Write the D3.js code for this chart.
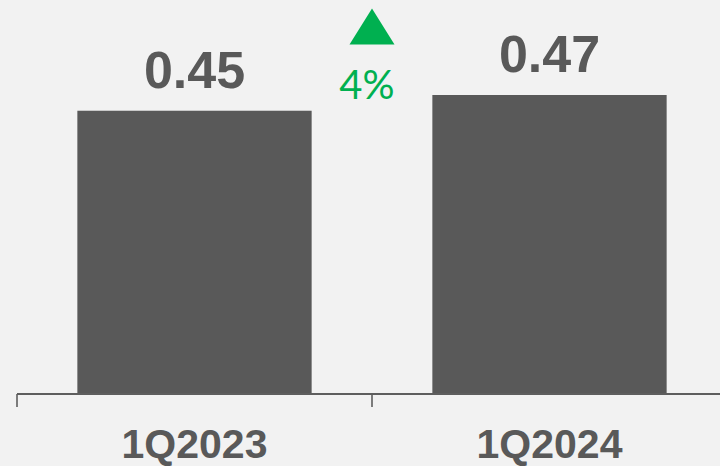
<!DOCTYPE html>
<html>
<head>
<meta charset="utf-8">
<script src="https://cdn.jsdelivr.net/npm/d3@7"></script>
<style>
  html, body { margin: 0; padding: 0; background: #f2f2f2; }
  svg { display: block; }
</style>
</head>
<body>
<svg id="chart" width="720" height="466"></svg>
<script>
// Quarterly values
const quarters = ["1Q2023", "1Q2024"];
const values = [0.45, 0.47];
const valueLabels = ["0.45", "0.47"];
const changeLabel = "4%";

const svg = d3.select("#chart");
const W = 720, H = 466;
const barColor = "#595959";
const textColor = "#595959";
const green = "#00b050";

svg.append("rect").attr("width", W).attr("height", H).attr("fill", "#f2f2f2");

const x = d3.scaleBand()
  .domain(quarters)
  .range([17, 727])
  .paddingInner(0.34)
  .paddingOuter(0.17);

const y = d3.scaleLinear()
  .domain([0.09, 0.47])
  .range([394, 95]);

const baseY = y(0.09);

// Bars
svg.selectAll("rect.bar")
  .data(quarters)
  .join("rect")
  .attr("class", "bar")
  .attr("x", d => x(d))
  .attr("y", (d, i) => y(values[i]))
  .attr("width", x.bandwidth())
  .attr("height", (d, i) => baseY - y(values[i]))
  .attr("fill", barColor);

// Axis baseline with ticks at category boundaries
const step = x.step();
const boundaries = quarters.map((d, i) => x(d) - x.paddingOuter() * step);
svg.append("line")
  .attr("x1", boundaries[0]).attr("x2", W)
  .attr("y1", baseY).attr("y2", baseY)
  .attr("stroke", "#5e5e5e").attr("stroke-width", 2);
svg.selectAll("line.tick")
  .data(boundaries)
  .join("line")
  .attr("class", "tick")
  .attr("x1", d => d).attr("x2", d => d)
  .attr("y1", baseY).attr("y2", baseY + 13)
  .attr("stroke", "#5e5e5e").attr("stroke-width", 1.6);

// Category labels
svg.selectAll("text.cat")
  .data(quarters)
  .join("text")
  .attr("class", "cat")
  .attr("x", d => x(d) + x.bandwidth() / 2)
  .attr("y", 458)
  .attr("text-anchor", "middle")
  .attr("font-family", "Liberation Sans, Arial, sans-serif")
  .attr("font-weight", "bold")
  .attr("font-size", 41)
  .attr("fill", textColor)
  .text(d => d);

// Value labels above bars
svg.selectAll("text.val")
  .data(quarters)
  .join("text")
  .attr("class", "val")
  .attr("x", d => x(d) + x.bandwidth() / 2)
  .attr("y", (d, i) => y(values[i]) - 23)
  .attr("text-anchor", "middle")
  .attr("font-family", "Liberation Sans, Arial, sans-serif")
  .attr("font-weight", "bold")
  .attr("font-size", 52)
  .attr("fill", textColor)
  .text((d, i) => valueLabels[i]);

// Growth indicator between the bars
const midX = boundaries[1];
const tri = d3.path();
tri.moveTo(midX - 22.5, 44.5);
tri.lineTo(midX, 8.5);
tri.lineTo(midX + 22.5, 44.5);
tri.closePath();
svg.append("path").attr("d", tri.toString()).attr("fill", green);

svg.append("text")
  .attr("x", midX - 5)
  .attr("y", 99)
  .attr("text-anchor", "middle")
  .attr("font-family", "Lato, 'Open Sans', sans-serif")
  .attr("font-size", 40)
  .attr("fill", green)
  .text(changeLabel);
</script>
</body>
</html>
